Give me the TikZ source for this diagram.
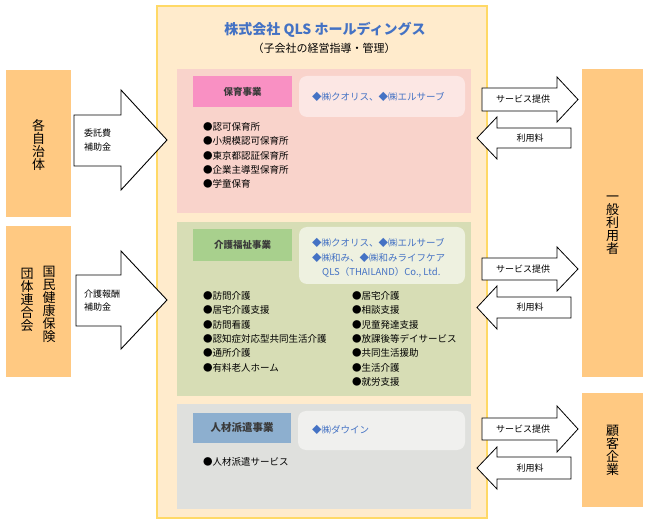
\documentclass[tikz,border=0pt]{standalone}
\usepackage{fontspec}
\setmainfont{Noto Sans CJK JP}
\definecolor{outerfill}{HTML}{FFEBCC}
\definecolor{outerline}{HTML}{FFD966}
\definecolor{sidefill}{HTML}{FFC982}
\definecolor{pinkpanel}{HTML}{F9D3CB}
\definecolor{greenpanel}{HTML}{D7DDB5}
\definecolor{graypanel}{HTML}{DFE0DD}
\definecolor{pinklab}{HTML}{F990C3}
\definecolor{greenlab}{HTML}{A8D08D}
\definecolor{bluelab}{HTML}{8DAFCF}
\definecolor{pinkcomp}{HTML}{FCE7E4}
\definecolor{greencomp}{HTML}{EEF1E0}
\definecolor{graycomp}{HTML}{F0F0EE}
\definecolor{bluetext}{HTML}{4472C4}
\definecolor{labtext}{HTML}{3A3A3A}
\begin{document}
\begin{tikzpicture}[x=1pt,y=-1pt,
  vtext/.style={align=center,inner sep=0pt,font=\fontsize{13}{13}\selectfont},
  labbox/.style={inner sep=0pt,text=labtext,font=\fontsize{9.5}{11}\selectfont\bfseries},
  compbox/.style={rounded corners=8pt},
  comptext/.style={anchor=west,inner sep=0pt,text=bluetext,font=\fontsize{9.5}{11}\selectfont},
  item/.style={anchor=west,inner sep=0pt,font=\fontsize{9.5}{11}\selectfont},
  blockarrow/.style={draw=black,fill=white,line width=0.9pt,line join=miter},
  arrowtext/.style={inner sep=0pt,font=\fontsize{9}{13.5}\selectfont,align=left},
  smallarrow/.style={draw=black,fill=white,line width=0.8pt,line join=miter}
]
\useasboundingbox (0,0) rectangle (648,526);
\fill[white] (0,0) rectangle (648,526);

% outer holding box
\draw[fill=outerfill,draw=outerline,line width=1.3pt] (157,6) rectangle (487,518);
\node[inner sep=0pt,text=bluetext,font=\fontsize{14}{16}\selectfont\bfseries] (title) at (325,30) {株式会社 QLS ホールディングス};
\node[inner sep=0pt,font=\fontsize{11}{13}\selectfont] (subtitle) at (324,48) {（子会社の経営指導・管理）};

% panels
\fill[pinkpanel] (177,69) rectangle (471,213);
\fill[greenpanel] (177,222) rectangle (471,396);
\fill[graypanel] (177,404) rectangle (471,509);

% pink panel
\fill[pinklab] (193,76) rectangle (292,107);
\node[labbox] (hoikulab) at (242.5,91.5) {保育事業};
\fill[pinkcomp,compbox] (299,76) rectangle (465,117);
\node[comptext] (hoikucomp) at (312,97) {◆㈱クオリス、◆㈱エルサーブ};
\foreach \t [count=\i] in {●認可保育所,●小規模認可保育所,●東京都認証保育所,●企業主導型保育所,●学童保育}
  \node[item] (hoiku\i) at (203,{127+14.3*(\i-1)}) {\t};

% green panel
\fill[greenlab] (193,229) rectangle (292,261);
\node[labbox] (kaigolab) at (242.5,245) {介護福祉事業};
\fill[greencomp,compbox] (299,227) rectangle (465,284);
\node[comptext] (kaigocompa) at (312,243) {◆㈱クオリス、◆㈱エルサーブ};
\node[comptext] (kaigocompb) at (312,257.5) {◆㈱和み、◆㈱和みライフケア};
\node[comptext] (kaigocompc) at (322,272) {QLS（THAILAND）Co., Ltd.};
\foreach \t [count=\i] in {●訪問介護,●居宅介護支援,●訪問看護,●認知症対応型共同生活介護,●通所介護,●有料老人ホーム}
  \node[item] (kaigoL\i) at (203,{296+14.3*(\i-1)}) {\t};
\foreach \t [count=\i] in {●居宅介護,●相談支援,●児童発達支援,●放課後等デイサービス,●共同生活援助,●生活介護,●就労支援}
  \node[item] (kaigoR\i) at (352,{296+14.3*(\i-1)}) {\t};

% gray panel
\fill[bluelab] (193,413) rectangle (291,443);
\node[labbox,font=\fontsize{10.5}{12}\selectfont\bfseries] (hakenlab) at (242,428) {人材派遣事業};
\fill[graycomp,compbox] (298,411) rectangle (465,450);
\node[comptext] (hakencomp) at (312,430) {◆㈱ダウイン};
\node[item] (haken1) at (203,462) {●人材派遣サービス};

% left side boxes
\fill[sidefill] (6,70) rectangle (71,217);
\node[vtext] (jichitai) at (38.5,145) {各\\自\\治\\体};
\fill[sidefill] (6,226) rectangle (71,377);
\node[vtext,anchor=north] (kokuho) at (49,266) {国\\民\\健\\康\\保\\険};
\node[vtext,anchor=north] (rengokai) at (27,268) {団\\体\\連\\合\\会};

% right side boxes
\fill[sidefill] (582,69) rectangle (643,377);
\node[vtext] (ippan) at (612.5,225) {一\\般\\利\\用\\者};
\fill[sidefill] (582,393) rectangle (643,507);
\node[vtext] (kokyaku) at (612.5,450) {顧\\客\\企\\業};

% left block arrows
\draw[blockarrow] (74,115) -- (121,115) -- (121,90) -- (167,140) -- (121,190) -- (121,166) -- (74,166) -- cycle;
\node[arrowtext,anchor=west] (itakuhi) at (84,140) {委託費\\補助金};
\draw[blockarrow] (76,275) -- (121,275) -- (121,251) -- (167,300) -- (121,349) -- (121,326) -- (76,326) -- cycle;
\node[arrowtext,anchor=west] (kaigohoshu) at (84,300.5) {介護報酬\\補助金};

% right arrows, pair 1
\draw[smallarrow] (482,88) -- (557,88) -- (557,77) -- (578,99.5) -- (557,122) -- (557,111) -- (482,111) -- cycle;
\node[arrowtext] (serv1) at (523,99.5) {サービス提供};
\draw[smallarrow] (571,128) -- (497,128) -- (497,117) -- (477,138) -- (497,159) -- (497,148) -- (571,148) -- cycle;
\node[arrowtext] (fee1) at (530,138) {利用料};

% pair 2
\draw[smallarrow] (482,258) -- (557,258) -- (557,247) -- (578,269) -- (557,291) -- (557,280) -- (482,280) -- cycle;
\node[arrowtext] (serv2) at (523,269) {サービス提供};
\draw[smallarrow] (571,297) -- (497,297) -- (497,286) -- (477,307.5) -- (497,329) -- (497,318) -- (571,318) -- cycle;
\node[arrowtext] (fee2) at (530,307.5) {利用料};

% pair 3
\draw[smallarrow] (482,418) -- (557,418) -- (557,406) -- (578,429) -- (557,452) -- (557,440) -- (482,440) -- cycle;
\node[arrowtext] (serv3) at (523,429) {サービス提供};
\draw[smallarrow] (571,457) -- (497,457) -- (497,447) -- (477,468) -- (497,489) -- (497,479) -- (571,479) -- cycle;
\node[arrowtext] (fee3) at (530,468) {利用料};
\end{tikzpicture}
\end{document}
